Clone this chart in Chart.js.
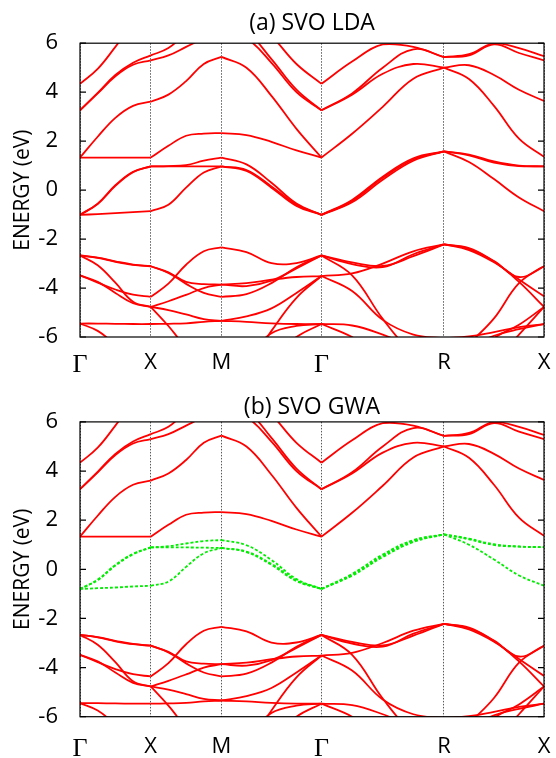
<!DOCTYPE html>
<html><head><meta charset="utf-8">
<script src="https://cdn.jsdelivr.net/npm/chart.js@4.4.0/dist/chart.umd.min.js"></script>
<style>
html,body{margin:0;padding:0;background:#fff;}
#wrap{position:relative;width:556px;height:758px;}
.panel{position:absolute;left:0;width:556px;}
#p1{top:0;height:380px;}
#p2{top:380px;height:378px;}
</style></head><body>
<div id="wrap">
<div class="panel" id="p1"><canvas id="c1"></canvas></div>
<div class="panel" id="p2"><canvas id="c2"></canvas></div>
</div>
<script>
// k-path high-symmetry points (simple cubic, units of 2pi/a)
const kTicks = [0, 0.5, 1.0, 1.7071, 2.5731, 3.2802];
const kLabels = ['Γ', 'X', 'M', 'Γ', 'R', 'X'];
const yTicks = [-6, -4, -2, 0, 2, 4, 6];

// Bands common to both panels (Sr/V eg and O 2p), 5 samples per segment (eV)
const redGX = [
  [4.34, 4.95, 5.85, 6.8, 7.5],
  [3.26, 3.95, 4.65, 5.12, 5.30],
  [3.26, 3.97, 4.70, 5.20, 5.50],
  [1.33, 2.18, 2.95, 3.44, 3.61],
  [1.33, 1.33, 1.33, 1.33, 1.33],
  [-2.67, -2.77, -2.93, -3.05, -3.11],
  [-2.67, -2.76, -2.91, -3.04, -3.11],
  [-2.67, -3.07, -3.78, -4.56, -4.77],
  [-3.48, -3.78, -4.06, -4.27, -4.36],
  [-3.48, -3.75, -4.20, -4.62, -4.77],
  [-5.45, -5.45, -5.46, -5.47, -5.47],
  [-5.45, -5.75, -6.30, -6.80, -7.00]
];
const redXM = [
  [5.50, 5.80, 6.40, 6.80, 7.00],
  [5.30, 5.50, 5.85, 6.20, 6.50],
  [3.61, 3.90, 4.45, 5.15, 5.44],
  [1.33, 1.81, 2.22, 2.31, 2.33],
  [-3.11, -3.38, -3.83, -4.20, -4.36],
  [-3.11, -3.36, -3.75, -3.84, -3.86],
  [-4.36, -3.82, -3.05, -2.50, -2.34],
  [-4.77, -4.54, -4.28, -4.00, -3.86],
  [-4.77, -4.90, -5.08, -5.27, -5.34],
  [-5.47, -5.46, -5.44, -5.38, -5.34],
  [-4.77, -5.55, -6.40, -6.90, -7.20]
];
const redMG = [
  [7.50, 7.20, 6.30, 5.15, 4.34],
  [6.50, 6.20, 5.20, 4.00, 3.26],
  [7.00, 6.50, 5.35, 4.10, 3.26],
  [5.44, 5.00, 3.85, 2.50, 1.33],
  [2.33, 2.25, 1.97, 1.62, 1.33],
  [-2.34, -2.53, -2.98, -2.98, -2.67],
  [-3.86, -3.80, -3.66, -3.55, -3.51],
  [-4.36, -4.25, -3.80, -3.15, -2.67],
  [-3.86, -3.92, -3.70, -3.20, -2.67],
  [-5.34, -5.16, -4.83, -4.20, -3.51],
  [-5.34, -5.38, -5.44, -5.47, -5.47],
  [-8.50, -7.30, -5.75, -4.40, -3.51],
  [-7.50, -6.80, -5.85, -5.55, -5.47],
  [-9.00, -8.00, -6.90, -6.00, -5.47]
];
const redGR = [
  [4.34, 5.25, 5.95, 5.85, 5.43],
  [3.26, 3.95, 5.00, 5.75, 5.43],
  [3.26, 3.90, 4.75, 5.15, 5.00],
  [1.33, 2.30, 3.40, 4.55, 5.00],
  [-2.67, -3.02, -3.15, -2.62, -2.22],
  [-2.67, -2.95, -3.10, -2.70, -2.22],
  [-3.51, -3.40, -3.00, -2.50, -2.22],
  [-2.67, -3.48, -5.26, -6.70, -7.50],
  [-3.51, -4.12, -5.30, -5.90, -6.05],
  [-5.47, -5.53, -5.90, -6.40, -6.60],
  [-5.47, -6.00, -6.80, -7.20, -7.50]
];
const redRX = [
  [5.43, 5.55, 6.00, 5.80, 5.47],
  [5.43, 5.50, 5.95, 5.60, 5.30],
  [5.00, 5.10, 4.70, 4.10, 3.64],
  [5.00, 4.54, 3.44, 2.10, 1.36],
  [-2.22, -2.45, -2.95, -3.65, -4.34],
  [-2.22, -2.37, -2.90, -3.55, -3.11],
  [-2.22, -2.40, -2.92, -3.75, -4.77],
  [-7.50, -6.30, -5.24, -3.80, -3.11],
  [-8.00, -7.00, -6.05, -5.50, -4.77],
  [-9.00, -8.00, -7.00, -5.90, -4.77],
  [-6.05, -5.98, -5.80, -5.60, -5.47],
  [-7.00, -6.40, -5.95, -5.68, -5.47]
];

// V t2g bands, LDA (red, panel a)
const ldaGX = [[-1.01, -0.55, 0.20, 0.75, 0.97], [-1.01, -0.57, 0.17, 0.73, 0.97], [-1.01, -0.98, -0.94, -0.90, -0.86]];
const ldaXM = [[0.97, 0.97, 0.97, 0.97, 0.97], [0.97, 0.98, 1.02, 1.20, 1.33], [-0.86, -0.60, 0.10, 0.72, 0.97]];
const ldaMG = [[1.33, 1.05, 0.30, -0.55, -1.01], [0.97, 0.82, 0.15, -0.60, -1.01], [0.97, 0.78, 0.10, -0.65, -1.01]];
const ldaGR = [[-1.01, -0.45, 0.50, 1.25, 1.58], [-1.01, -0.50, 0.42, 1.20, 1.58], [-1.01, -0.40, 0.55, 1.30, 1.58]];
const ldaRX = [[1.58, 1.45, 1.17, 1.00, 0.97], [1.58, 1.42, 1.12, 0.98, 0.97], [1.58, 1.15, 0.45, -0.30, -0.86]];

// V t2g bands, GWA (green dashed, panel b)
const gwGX = [[-0.80, -0.42, 0.18, 0.63, 0.89], [-0.80, -0.44, 0.15, 0.61, 0.89], [-0.80, -0.77, -0.74, -0.70, -0.67]];
const gwXM = [[0.89, 0.89, 0.89, 0.88, 0.87], [0.89, 0.94, 1.05, 1.15, 1.19], [-0.67, -0.50, 0.10, 0.65, 0.87]];
const gwMG = [[1.19, 0.98, 0.38, -0.40, -0.80], [0.87, 0.72, 0.22, -0.45, -0.80], [0.87, 0.70, 0.18, -0.48, -0.80]];
const gwGR = [[-0.80, -0.22, 0.55, 1.15, 1.42], [-0.80, -0.26, 0.50, 1.11, 1.42], [-0.80, -0.19, 0.60, 1.19, 1.42]];
const gwRX = [[1.42, 1.25, 1.02, 0.93, 0.90], [1.42, 1.22, 0.99, 0.92, 0.90], [1.42, 1.00, 0.40, -0.25, -0.67]];

const FONT = "'Open Sans', 'DejaVu Sans', sans-serif";
const RED = '#ff0000', GREEN = '#00ee00';

function segData(seg, band) {
  const k0 = kTicks[seg], k1 = kTicks[seg + 1];
  return band.map((e, i) => ({x: k0 + (k1 - k0) * i / (band.length - 1), y: e}));
}
function addSegs(list, segArrays, style) {
  segArrays.forEach((bands, s) => bands.forEach(b => list.push(Object.assign({data: segData(s, b)}, style))));
}

const framePlugin = {
  id: 'frame',
  afterDraw(chart) {
    const {ctx, chartArea: a, scales: {y}} = chart;
    ctx.save();
    ctx.strokeStyle = '#000';
    ctx.lineWidth = 1.2;
    ctx.setLineDash([]);
    ctx.strokeRect(a.left, a.top, a.right - a.left, a.bottom - a.top);
    yTicks.forEach(v => {
      const py = y.getPixelForValue(v);
      ctx.beginPath();
      ctx.moveTo(a.left, py); ctx.lineTo(a.left + 6, py);
      ctx.moveTo(a.right - 6, py); ctx.lineTo(a.right, py);
      ctx.stroke();
    });
    ctx.restore();
  }
};

function makeChart(id, title, tPad, xH, xPad, useGW) {
  const ds = [];
  const redStyle = {borderColor: RED, borderWidth: 1.8, pointRadius: 0, tension: 0.4, fill: false};
  const greenStyle = {borderColor: GREEN, borderWidth: 1.8, borderDash: [3, 2], pointRadius: 0, tension: 0.4, fill: false};
  if (useGW) addSegs(ds, [gwGX, gwXM, gwMG, gwGR, gwRX], greenStyle);
  else addSegs(ds, [ldaGX, ldaXM, ldaMG, ldaGR, ldaRX], redStyle);
  addSegs(ds, [redGX, redXM, redMG, redGR, redRX], redStyle);
  return new Chart(document.getElementById(id), {
    type: 'line',
    data: {datasets: ds},
    plugins: [framePlugin],
    options: {
      responsive: true, maintainAspectRatio: false, animation: false,
      events: [],
      layout: {padding: {left: 0, right: 12, top: 0, bottom: 0}},
      plugins: {
        legend: {display: false}, tooltip: {enabled: false},
        title: {display: true, text: title, color: '#000', fullSize: false,
          font: {family: FONT, size: 23, weight: 'normal'}, padding: tPad}
      },
      scales: {
        x: {
          type: 'linear', min: kTicks[0], max: kTicks[kTicks.length - 1],
          afterBuildTicks: s => { s.ticks = kTicks.map(v => ({value: v})); },
          afterFit: s => { s.height = xH; s.paddingLeft = 0; s.paddingRight = 0; },
          ticks: {
            autoSkip: false, maxRotation: 0, padding: xPad, color: '#000',
            callback: (v, i) => kLabels[i],
            font: ctx => kLabels[ctx.index] === 'Γ'
              ? {family: "'Liberation Serif', 'DejaVu Serif', serif", size: 26}
              : {family: FONT, size: 22}
          },
          grid: {color: 'rgba(0,0,0,0.65)', lineWidth: 1, drawTicks: false},
          border: {display: false, dash: [1.5, 1.5]}
        },
        y: {
          min: -6, max: 6,
          afterBuildTicks: s => { s.ticks = yTicks.map(v => ({value: v})); },
          afterFit: s => { s.width = 80; },
          ticks: {color: '#000', padding: 14, font: {family: FONT, size: 22}},
          grid: {display: false},
          border: {display: false},
          title: {display: true, text: 'ENERGY (eV)', color: '#000',
            font: {family: FONT, size: 21}, padding: {top: 10, bottom: 0}}
        }
      }
    }
  });
}

makeChart('c1', '(a) SVO LDA', {top: 9.5, bottom: 6.1}, 43, 13, false);
makeChart('c2', '(b) SVO GWA', {top: 14, bottom: 0.3}, 41.3, 17, true);
</script>
</body></html>
